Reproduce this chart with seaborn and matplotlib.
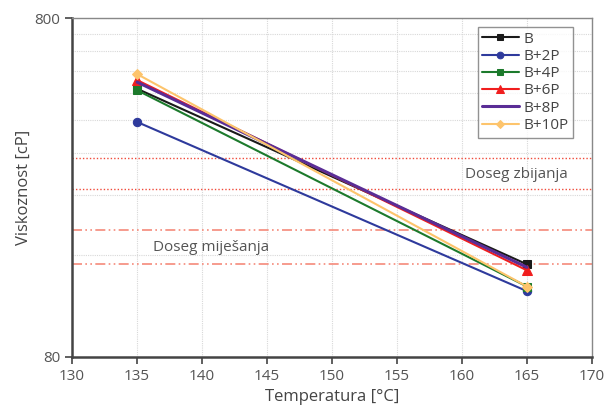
import matplotlib
matplotlib.use("Agg")
import matplotlib.pyplot as plt
from matplotlib.ticker import FixedLocator, FixedFormatter, NullFormatter
import seaborn as sns

# data
temperature = [135, 165]
series_names = ["B", "B+2P", "B+4P", "B+6P", "B+8P", "B+10P"]
visc_B = [495, 150]
visc_B2P = [395, 125]
visc_B4P = [490, 129]
visc_B6P = [525, 144]
visc_B8P = [518, 147]
visc_B10P = [547, 129]
mixing_range = [150, 190]
compaction_range = [250, 310]

values = [visc_B, visc_B2P, visc_B4P, visc_B6P, visc_B8P, visc_B10P]
colors = ["#1a1a1a", "#2e3a9c", "#1c7a2c", "#f01e1e", "#5a2d96", "#fdc46c"]
markers = ["s", "o", "s", "^", None, "D"]
msizes = [6, 6, 6, 7, 0, 5]
lwidths = [1.5, 1.5, 1.5, 1.5, 2.2, 1.5]

sns.set_style("white")
plt.rcParams['font.family'] = ['Open Sans', 'DejaVu Sans']

fig = plt.figure(figsize=(6.06, 4.13), dpi=100)
ax = fig.add_axes([0.119, 0.136, 0.858, 0.820])

# range lines
for v in compaction_range:
    ax.axhline(v, color="#f04a3a", lw=1.0, ls=(0, (1, 1.5)), zorder=1)
for v in mixing_range:
    ax.axhline(v, color="#f58a7a", lw=1.2, ls=(0, (6, 2, 1, 2, 1, 2)), zorder=1)

for name, vals, c, m, ms, lw in zip(series_names, values, colors, markers, msizes, lwidths):
    sns.lineplot(x=temperature, y=vals, ax=ax, color=c, marker=m, markersize=ms,
                 markeredgecolor=c, lw=lw, label=name, zorder=3)

ax.set_yscale("log")
ax.set_ylim(80, 800)
ax.set_xlim(130, 170)
ax.set_xticks(range(130, 171, 5))
ax.yaxis.set_major_locator(FixedLocator([80, 800]))
ax.yaxis.set_major_formatter(FixedFormatter(["80", "800"]))
ax.yaxis.set_minor_locator(FixedLocator([80 * k for k in range(2, 10)]))
ax.yaxis.set_minor_formatter(NullFormatter())
ax.tick_params(axis="y", which="minor", length=0)
ax.tick_params(axis="both", which="major", length=5, width=1.2, color="#444444",
               labelsize=11, labelcolor="#555555", direction="out", left=True, bottom=True)

ax.grid(True, which="both", axis="y", color="#d8d8d8", lw=0.8, ls=(0, (1, 1)), zorder=0)
ax.grid(True, which="major", axis="x", color="#d8d8d8", lw=0.8, ls=(0, (1, 1)), zorder=0)
ax.set_axisbelow(True)

for side in ["left", "bottom"]:
    ax.spines[side].set_color("#444444")
    ax.spines[side].set_linewidth(1.8)
for side in ["top", "right"]:
    ax.spines[side].set_color("#888888")
    ax.spines[side].set_linewidth(1.0)

ax.text(164.2, 276, "Doseg zbijanja", fontsize=11, color="#555555", ha="center", va="center")
ax.text(140.7, 168, "Doseg miješanja", fontsize=11, color="#555555", ha="center", va="center")

ax.set_xlabel("Temperatura [°C]", fontsize=12, color="#444444", labelpad=4)
ax.set_ylabel("Viskoznost [cP]", fontsize=12, color="#444444", labelpad=2)

leg = ax.legend(loc="upper right", bbox_to_anchor=(0.9635, 0.974), borderaxespad=0,
                fontsize=11, frameon=True, fancybox=False, edgecolor="#777777",
                handlelength=2.4, labelspacing=0.15, borderpad=0.3, handletextpad=0.3,
                markerscale=0.8)
leg.get_frame().set_linewidth(1.0)
for t in leg.get_texts():
    t.set_color("#444444")

fig.savefig("out.png", dpi=100)
